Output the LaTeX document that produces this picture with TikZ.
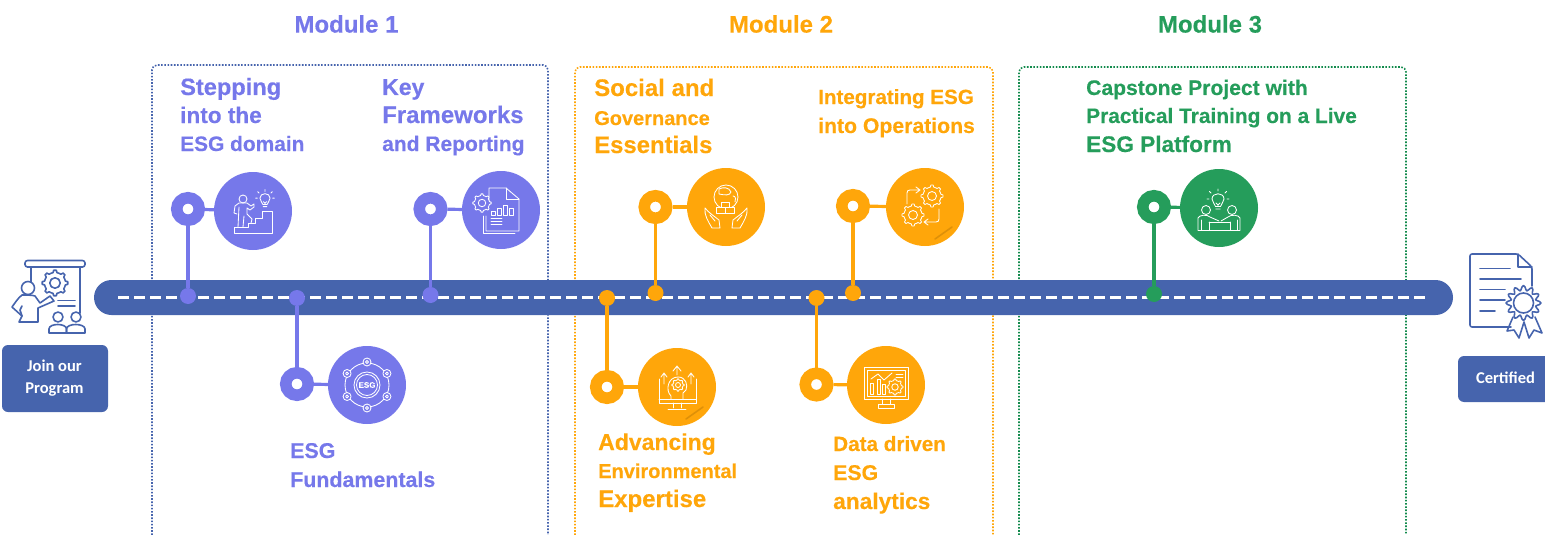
\documentclass[tikz,border=0pt]{standalone}
\usepackage{fontspec}
\setmainfont{Liberation Sans}[BoldFeatures={FakeBold=0.35}]
\newfontfamily\carl{Carlito}
\definecolor{roadblue}{HTML}{4664AD}
\definecolor{modpurple}{HTML}{7678EA}
\definecolor{modorange}{HTML}{FFA60A}
\definecolor{modgreen}{HTML}{259D5B}
\definecolor{boxgreen}{HTML}{128A4C}
\newcommand\lineat[6]{\node[lineword=#5,font=\bfseries\fontsize{#4}{#4}\selectfont] (#1) at (#2,#3) {#6};}
\newcommand\icgear[4][]{\draw[#1,shift={(#2,#3)}] plot[domain=0:360,samples=65] ({(#4+.22*#4*(cos(8*\x)>0))*cos(\x)},{(#4+.22*#4*(cos(8*\x)>0))*sin(\x)})--cycle (0,0) circle ({.5*#4});}
\newcommand\icbulb[3]{\begin{scope}[shift={(#1,#2)},scale=#3]
 \draw (-2.5,6.5) .. controls (-3,3) and (-6,2.5) .. (-6,-1) .. controls (-6,-8) and (6,-8) .. (6,-1) .. controls (6,2.5) and (3,3) .. (2.5,6.5) --cycle;
 \draw (-2.2,9)--(2.2,9) (-2,3)--(0,5)--(2,3) (0,5)--(0,6.5);
 \draw (0,-9)--(0,-11) (-7,-7)--(-8.5,-8.5) (7,-7)--(8.5,-8.5) (-9,-1)--(-11,-1) (9,-1)--(11,-1);
 \end{scope}}
\tikzset{
 iconline/.style={draw=white,line width=.85pt,fill=none,line join=round,line cap=round},
 modbox/.style={line width=1.6pt,dash pattern=on 1.6pt off 1.6pt,rounded corners=5,fill=none},
 iconball/.style={circle,fill=#1,minimum size=78pt,inner sep=0pt,outer sep=0pt},
 ringnode/.style={circle,draw=#1,fill=white,line width=11.5pt,minimum size=22.5pt,inner sep=0pt},
 dotnode/.style={circle,fill=#1,minimum size=16pt,inner sep=0pt},
 linker/.style={draw=#1,line width=3.2pt},
 title/.style={font=\bfseries\fontsize{24}{28}\selectfont,text=#1,inner sep=0pt},
 lineword/.style={anchor=base west,inner sep=0pt,text=#1},
 btnlabel/.style={text=white,align=center,font=\carl\bfseries\fontsize{16.5}{22}\selectfont,inner sep=0pt},
 sheen/.style={line width=1.6pt,line cap=round,draw=black,opacity=.13},
 blueline/.style={draw=roadblue,line width=1.6pt,fill=none,line join=round,line cap=round},
}
\begin{document}
\begin{tikzpicture}[x=1pt,y=-1pt]
\useasboundingbox (0,0) rectangle (1545,535);
% module frames
\draw[modbox,draw=roadblue] (152,535)--(152,65)--(548,65)--(548,535);
\draw[modbox,draw=modorange] (575,535)--(575,67)--(993,67)--(993,535);
\draw[modbox,draw=boxgreen] (1019,535)--(1019,67)--(1406,67)--(1406,535);
% titles
\node[title=modpurple] (t1) at (346.5,24) {Module 1};
\node[title=modorange] (t2) at (781,24) {Module 2};
\node[title=modgreen] (t3) at (1210,24) {Module 3};
% road
\node[fill=roadblue,rounded corners=17.5pt,minimum width=1359pt,minimum height=35pt,inner sep=0pt] (road) at (773.5,297.5) {};
\coordinate (dashL) at (118,297.5);
\coordinate (dashR) at (1428,297.5);
\draw[white,line width=3pt,dash pattern=on 10.5pt off 5.5pt] (dashL)--(dashR);
% timeline stops
\foreach \n/\c/\rx/\ry/\ix/\iy/\dy in {
 a/modpurple/188/209/253/211/296,
 b/modpurple/297/384/367/385/298,
 c/modpurple/430.5/209/501/210/295,
 d/modorange/655.5/207/726/207/293,
 e/modorange/607/387/677/387/298,
 f/modorange/853/206/925/207/293,
 g/modorange/816.5/384.5/886/385/298,
 h/modgreen/1154/207/1219/208/294}{
 \node[iconball=\c] (icon\n) at (\ix,\iy) {};
 \node[ringnode=\c] (ring\n) at (\rx,\ry) {};
 \node[dotnode=\c] (dot\n) at (\rx,\dy) {};
 \draw[linker=\c] (ring\n)--(dot\n);
 \draw[linker=\c] (ring\n)--(icon\n);
}
% sheen marks
\draw[sheen] ([shift={(10,32)}]iconf.center)--([shift={(27,20)}]iconf.center);
\draw[sheen] ([shift={(9,32)}]icone.center)--([shift={(26,20)}]icone.center);
% icon 1: stairs
\begin{scope}[shift={(icona.center)},iconline]
 \draw (-19,22)--(19,22)--(19,0)--(9,0)--(9,7)--(2,7)--(2,12)--(-5,12)--(-5,16)--(-19,16)--cycle;
 \draw (-10,-12) circle (4);
 \draw (-16,3)--(-19,2)--(-18,-5)--(-14,-8)--(-6,-8)--(-2,-5)--(1,-7)--(1,-4)--(-3,-1)--(-6,-3)--(-6,3)--(-1,8)--(-2,12) (-14,-4)--(-15,16) (-9,5)--(-10,16);
 \icbulb{12}{-12}{.85}
\end{scope}
% icon 2: ESG hub
\begin{scope}[shift={(iconb.center)},iconline]
 \draw (0,0) circle (22);
 \draw (0,0) circle (13) (0,0) circle (10.5);
 \foreach \a in {30,90,150,210,270,330}{\draw[fill=modpurple] (\a:23) circle (4);\draw (\a:23) circle (1.5);}
 \node[text=white,font=\bfseries\fontsize{8}{8}\selectfont,inner sep=0pt] (esgmark) at (0,0) {ESG};
\end{scope}
% icon 3: report
\begin{scope}[shift={(iconc.center)},iconline]
 \draw (-12,-8)--(-12,-22)--(5,-22)--(18,-11)--(18,21)--(-15,21)--(-15,6);
 \draw (5,-22)--(5,-11)--(18,-11) (-18,6)--(-18,23)--(14,23);
 \icgear[fill=modpurple]{-19}{-7}{7.5}
 \draw (-10,1) rectangle (-6,5) (-4,-2) rectangle (0,5) (2,-5) rectangle (6,5) (8,-2) rectangle (12,5);
 \draw (-10,8)--(1,8) (-10,11)--(1,11) (-10,14)--(1,14);
\end{scope}
% icon 4: globe and hands
\begin{scope}[shift={(icond.center)},iconline]
 \draw (0,-10) circle (12);
 \draw (-7,-18) .. controls (-3,-20) and (3,-20) .. (5,-15) .. controls (4,-11) and (-2,-12) .. (-7,-13) --cycle;
 \draw (7,-11) .. controls (10,-11) and (10,-7) .. (9,-5);
 \draw[fill=modorange] (-5,-5) rectangle (3,0) (-10,0) rectangle (-1,6) (-1,0) rectangle (8,6);
 \draw (-21,1) .. controls (-17,6) and (-12,9) .. (-7,13)--(-6,21)--(-14,21) .. controls (-18,14) and (-22,8) .. (-21,1);
 \draw (21,1) .. controls (17,6) and (12,9) .. (7,13)--(6,21)--(14,21) .. controls (18,14) and (22,8) .. (21,1);
 \draw (-16,8)--(-11,14) (16,8)--(11,14);
\end{scope}
% icon 5: monitor with head
\begin{scope}[shift={(icone.center)},iconline]
 \draw (-18,-8)--(-18,16)--(19,16)--(19,-8) (-18,12)--(19,12);
 \draw (-4,16)--(-4,21)(4,16)--(4,21)(-9,22)--(9,22);
 \draw (-6,12)--(-6,9) .. controls (-12,3) and (-9,-10) .. (1,-10) .. controls (9,-10) and (11,-2) .. (9,3)--(6,6)--(6,12);
 \icgear{1}{-2}{5}
 \draw (0,-12)--(0,-20) (-4,-16)--(0,-21)--(4,-16) (-13,-3)--(-13,-13) (-16,-10)--(-13,-14)--(-10,-10) (14,-3)--(14,-13) (11,-10)--(14,-14)--(17,-10);
\end{scope}
% icon 6: two gears
\begin{scope}[shift={(iconf.center)},iconline]
 \icgear{7}{-11}{9}
 \icgear{-12}{8}{9}
 \draw (-18,-3)--(-18,-14) .. controls (-18,-16) and (-17,-17) .. (-15,-17)--(-6,-17) (-9,-20)--(-5,-17)--(-9,-14);
 \draw (14,2)--(14,12) .. controls (14,14) and (13,15) .. (11,15)--(0,15) (3,12)--(-1,15)--(3,18);
\end{scope}
% icon 7: analytics monitor
\begin{scope}[shift={(icong.center)},iconline]
 \draw (-22,-18) rectangle (22,14) (-19,-15) rectangle (19,11);
 \draw (-4,14)--(-4,19)(4,14)--(4,19) (-8,19) rectangle (8,23);
 \draw (-16,9) rectangle (-13,-2) (-9,9) rectangle (-6,-6) (-4,9) rectangle (-1,-1);
 \draw (-15,-6)--(-8,-11)--(-2,-5)--(6,-12) ;
 \draw (10,-11)--(17,-11) (10,-8)--(17,-8);
 \icgear[fill=modorange]{9}{2}{6.5}
\end{scope}
% icon 8: team and idea
\begin{scope}[shift={(iconh.center)},iconline]
 \icbulb{-1}{-8}{1}
 \draw (-13,2) circle (4.5) (13,2) circle (4.5);
 \draw (-21,22)--(-21,10) .. controls (-20,7) and (-12,6) .. (-9,9)--(0,13) (21,22)--(21,10) .. controls (20,7) and (12,6) .. (9,9)--(2,13);
 \draw (-18,22)--(-18,12) (18,22)--(18,12);
 \draw (-21,22)--(21,22) (-10,14)--(-10,22) (11,14)--(11,22) (-10,14)--(11,14);
\end{scope}
% labels
\lineat{la1}{180}{95}{23.6}{modpurple}{Stepping}
\lineat{la2}{180}{123}{22.6}{modpurple}{into the}
\lineat{la3}{180}{151}{20.9}{modpurple}{ESG domain}
\lineat{lc1}{382}{95}{23}{modpurple}{Key}
\lineat{lc2}{382}{123}{24}{modpurple}{Frameworks}
\lineat{lc3}{382}{151}{21}{modpurple}{and Reporting}
\lineat{lb1}{290}{458}{21.4}{modpurple}{ESG}
\lineat{lb2}{290}{487}{21.4}{modpurple}{Fundamentals}
\lineat{ld1}{594}{96}{24}{modorange}{Social and}
\lineat{ld2}{594}{125}{20}{modorange}{Governance}
\lineat{ld3}{594}{153}{23.9}{modorange}{Essentials}
\lineat{lf1}{818}{104}{20.6}{modorange}{Integrating ESG}
\lineat{lf2}{818}{133}{21.2}{modorange}{into Operations}
\lineat{le1}{598}{450}{23}{modorange}{Advancing}
\lineat{le2}{598}{478}{20}{modorange}{Environmental}
\lineat{le3}{598}{507}{24}{modorange}{Expertise}
\lineat{lg1}{833}{451}{20.7}{modorange}{Data driven}
\lineat{lg2}{833}{480}{21.3}{modorange}{ESG}
\lineat{lg3}{833}{509}{22.7}{modorange}{analytics}
\lineat{lh1}{1086}{95}{21.1}{modgreen}{Capstone Project with}
\lineat{lh2}{1086}{123}{20.9}{modgreen}{Practical Training on a Live}
\lineat{lh3}{1086}{152}{22.6}{modgreen}{ESG Platform}
% start and end buttons
\fill[roadblue,rounded corners=6] (2,345) rectangle (108,412);
\node[btnlabel] (join) at (54.5,378.5) {Join our\\Program};
\fill[roadblue] (1545,356) [rounded corners=6] -- (1458,356) -- (1458,402) [sharp corners] -- (1545,402) -- cycle;
\node[btnlabel] (cert) at (1505.5,377.5) {Certified};
% presenter icon
\begin{scope}[blueline]
 \draw[rounded corners=2.5] (25,260.5) rectangle (85,267);
 \draw (31,267)--(31,282) (80,267)--(80,313);
 \icgear{55}{283}{10.5}
 \draw (58,300.5)--(75,300.5) (58,305.7)--(75,305.7);
 \draw (28,288) circle (6.5);
 \draw (22,295) .. controls (18,298) and (15,303) .. (12,307)--(22,316)--(19,322)--(38,322)--(38,308)--(54,301)--(50,296)--(40,303)--(35,296) .. controls (33,295) and (25,295) .. (22,295);
 \draw (22,306)--(20,310)--(22,316);
 \draw[fill=white] (58,317) circle (5) (76,317) circle (5);
 \draw (49,333)--(49,329) .. controls (49,323) and (66.5,323) .. (66.5,329)--(66.5,333)--cycle;
 \draw (66.5,333)--(66.5,329) .. controls (66.5,323) and (85,323) .. (85,329)--(85,333)--cycle;
\end{scope}
% certificate icon
\begin{scope}[blueline]
 \draw[rounded corners=2] (1511,327)--(1470,327)--(1470,254)--(1518,254)--(1532,267)--(1532,286);
 \draw (1518,254)--(1518,267)--(1532,267);
 \draw (1480,268.5)--(1510,268.5) (1480,279)--(1521,279) (1480,289.5)--(1505,289.5) (1480,300)--(1505,300) (1480,311)--(1495,311);
 \begin{scope}[shift={(1523.5,303)}]
  \draw plot[domain=0:360,samples=73] ({(15+2.5*cos(12*\x))*cos(\x)},{(15+2.5*cos(12*\x))*sin(\x)})--cycle;
  \draw (0,0) circle (10);
 \end{scope}
 \draw (1513,317)--(1507,331)--(1514,330)--(1519,338)--(1524,322)--(1529,338)--(1534,330)--(1542,333)--(1535,317);
\end{scope}
\end{tikzpicture}
\end{document}
